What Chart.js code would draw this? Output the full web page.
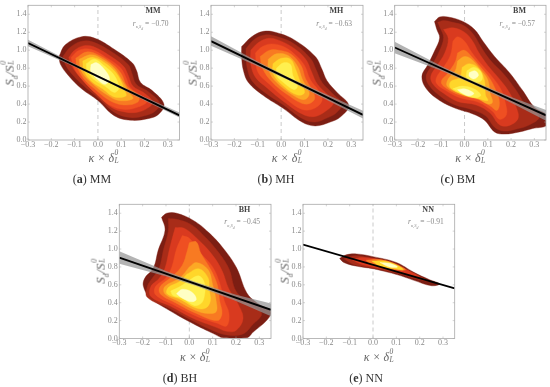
<!DOCTYPE html>
<html><head><meta charset="utf-8">
<style>
html,body{margin:0;padding:0;background:#fff;width:550px;height:387px;overflow:hidden}
#stage{position:relative;width:550px;height:387px;font-family:"Liberation Serif",serif}
canvas{position:absolute}
.t{position:absolute;white-space:nowrap}
.cap{font-size:12px;color:#333;transform:translateX(-50%)}
.name{font-size:8px;font-weight:bold;color:#444;transform:translateX(-50%)}
.r{font-size:7.5px;color:#888;transform:translateX(-50%)}
.xt,.yt{font-size:12px;color:#666;font-style:italic}
.yt{font-size:13px}
.xt{transform:translateX(-50%)}
.yt{transform:translate(-50%,-50%) rotate(-90deg)}
.st{display:inline-block;position:relative;width:5px;height:1em}
.st b,.st u{position:absolute;left:0.5px;font-size:7.5px;font-weight:normal;text-decoration:none;line-height:1}
.st b{top:-1px}.st u{top:7px}
</style></head><body><div id="stage"></div>
<script src="https://cdn.jsdelivr.net/npm/chart.js@4/dist/chart.umd.min.js"></script>
<script>
const levelColors=['#7c1e13','#a82c18','#d93a1f','#ef4f22','#f87a22','#fca925','#ffd62a','#fff04f','#ffffc4'];
const xTicks=[-0.3,-0.2,-0.1,0,0.1,0.2,0.3];
const yTicks=[0,0.2,0.4,0.6,0.8,1,1.2,1.4];
const bandX=[-0.3,-0.1,0.03,0.2,0.35];

const mmFit=[1.08,0.275], mhFit=[1.10,0.28], bmFit=[1.03,0.275], bhFit=[0.905,0.32], nnFit=[1.05,0.56];
const mmUpper=[1.115,0.85,0.683,0.48,0.305], mmLower=[1.045,0.815,0.659,0.44,0.25];
const mhUpper=[1.155,0.875,0.70,0.50,0.325], mhLower=[1.05,0.82,0.668,0.44,0.24];
const bmUpper=[1.095,0.825,0.662,0.48,0.335], bmLower=[0.965,0.77,0.632,0.415,0.215];
const bhUpper=[0.975,0.755,0.628,0.49,0.39], bhLower=[0.835,0.695,0.588,0.42,0.25];

const mm1=[[-0.167,0.93],[-0.14,1.06],[-0.07,1.15],[-0.01,1.13],[0.07,1.01],[0.147,0.86],[0.166,0.77],[0.183,0.64],[0.233,0.55],[0.283,0.40],[0.262,0.29],[0.219,0.24],[0.14,0.22],[0.07,0.27],[0,0.44],[-0.07,0.57],[-0.124,0.71],[-0.16,0.84]];
const mm2=[[-0.15,0.93],[-0.12,1.03],[-0.07,1.10],[-0.02,1.09],[0.06,0.98],[0.13,0.84],[0.145,0.75],[0.165,0.62],[0.215,0.54],[0.265,0.41],[0.245,0.32],[0.2,0.27],[0.14,0.25],[0.07,0.31],[0,0.47],[-0.06,0.60],[-0.11,0.73],[-0.14,0.84]];
const mm3=[[-0.125,0.92],[-0.1,1.0],[-0.06,1.05],[-0.02,1.04],[0.05,0.94],[0.11,0.82],[0.13,0.72],[0.15,0.6],[0.2,0.52],[0.235,0.42],[0.21,0.35],[0.17,0.31],[0.12,0.31],[0.06,0.36],[0,0.5],[-0.05,0.63],[-0.09,0.74],[-0.115,0.84]];
const mm4=[[-0.115,0.92],[-0.08,1.0],[-0.03,1.01],[0.035,0.92],[0.095,0.81],[0.12,0.7],[0.14,0.58],[0.185,0.5],[0.21,0.43],[0.175,0.37],[0.115,0.34],[0.05,0.39],[-0.01,0.52],[-0.06,0.65],[-0.1,0.79]];
const mm5=[[-0.095,0.91],[-0.05,0.98],[0,0.95],[0.06,0.85],[0.1,0.74],[0.125,0.6],[0.175,0.49],[0.17,0.42],[0.11,0.39],[0.05,0.44],[-0.01,0.56],[-0.06,0.68],[-0.09,0.82]];
const mm6=[[-0.08,0.9],[-0.03,0.95],[0.02,0.9],[0.07,0.8],[0.1,0.68],[0.135,0.53],[0.15,0.46],[0.09,0.44],[0.04,0.5],[-0.02,0.62],[-0.07,0.76]];
const mm7=[[-0.065,0.88],[-0.02,0.92],[0.04,0.84],[0.085,0.72],[0.115,0.55],[0.12,0.49],[0.07,0.48],[0.02,0.57],[-0.03,0.66],[-0.06,0.77]];
const mm8=[[-0.05,0.85],[-0.015,0.9],[0.03,0.82],[0.07,0.72],[0.09,0.58],[0.07,0.53],[0.03,0.6],[-0.01,0.66],[-0.045,0.76]];
const mm9=[[-0.03,0.84],[-0.005,0.86],[0.03,0.78],[0.05,0.68],[0.03,0.62],[0,0.67],[-0.03,0.76]];

const mh1=[[-0.169,1.04],[-0.126,1.15],[-0.076,1.21],[-0.026,1.20],[0.053,1.12],[0.146,0.93],[0.174,0.79],[0.196,0.66],[0.239,0.53],[0.289,0.385],[0.253,0.256],[0.21,0.2],[0.146,0.157],[0.089,0.2],[0.01,0.35],[-0.076,0.495],[-0.14,0.64],[-0.161,0.77],[-0.169,0.92]];
const mh2=[[-0.15,1.02],[-0.115,1.12],[-0.07,1.17],[-0.03,1.16],[0.05,1.08],[0.125,0.91],[0.15,0.78],[0.175,0.64],[0.215,0.53],[0.26,0.4],[0.235,0.3],[0.2,0.25],[0.145,0.2],[0.09,0.24],[0.01,0.39],[-0.07,0.53],[-0.125,0.66],[-0.145,0.8],[-0.15,0.93]];
const mh3=[[-0.13,1.0],[-0.1,1.08],[-0.06,1.13],[-0.02,1.12],[0.05,1.03],[0.105,0.9],[0.13,0.76],[0.155,0.62],[0.2,0.5],[0.225,0.42],[0.19,0.32],[0.14,0.26],[0.09,0.29],[0.01,0.43],[-0.06,0.58],[-0.11,0.7],[-0.13,0.85]];
const mh4=[[-0.11,0.97],[-0.08,1.04],[-0.04,1.07],[0.01,1.04],[0.06,0.95],[0.1,0.83],[0.125,0.67],[0.16,0.55],[0.175,0.44],[0.14,0.35],[0.09,0.34],[0.02,0.46],[-0.05,0.62],[-0.1,0.76]];
const mh5=[[-0.09,0.93],[-0.05,1.0],[-0.01,1.0],[0.04,0.96],[0.085,0.83],[0.105,0.68],[0.14,0.52],[0.14,0.44],[0.1,0.4],[0.03,0.5],[-0.04,0.65],[-0.08,0.8]];
const mh6=[[-0.055,0.9],[-0.02,0.96],[0.03,0.94],[0.07,0.82],[0.09,0.68],[0.12,0.52],[0.1,0.45],[0.05,0.5],[-0.03,0.67],[-0.055,0.8]];
const mh7=[[-0.035,0.85],[0,0.91],[0.04,0.9],[0.06,0.8],[0.08,0.66],[0.1,0.53],[0.07,0.5],[0.01,0.6],[-0.035,0.74]];
const mh8=[[-0.02,0.8],[0.01,0.86],[0.04,0.84],[0.05,0.72],[0.07,0.6],[0.055,0.56],[0.01,0.64],[-0.02,0.72]];

const bm1=[[-0.129,1.32],[-0.107,1.37],[-0.071,1.37],[-0.007,1.32],[0.043,1.23],[0.079,1.10],[0.129,0.93],[0.193,0.75],[0.25,0.55],[0.3,0.366],[0.355,0.275],[0.355,0.165],[0.293,0.128],[0.236,0.09],[0.171,0.066],[0.129,0.09],[0.086,0.22],[0.036,0.29],[-0.036,0.35],[-0.107,0.44],[-0.164,0.57],[-0.183,0.71],[-0.157,0.84],[-0.129,0.99],[-0.107,1.135],[-0.119,1.23]];
const bm2=[[-0.115,1.31],[-0.09,1.33],[-0.05,1.31],[0,1.27],[0.04,1.17],[0.07,1.04],[0.11,0.89],[0.17,0.73],[0.22,0.56],[0.26,0.4],[0.32,0.26],[0.28,0.17],[0.22,0.12],[0.17,0.1],[0.13,0.14],[0.09,0.27],[0.03,0.34],[-0.04,0.39],[-0.1,0.48],[-0.15,0.6],[-0.165,0.71],[-0.14,0.83],[-0.11,0.98],[-0.09,1.14],[-0.105,1.25]];
const bm3=[[-0.09,1.23],[-0.05,1.25],[0,1.2],[0.035,1.1],[0.06,0.98],[0.1,0.83],[0.15,0.68],[0.19,0.54],[0.22,0.38],[0.23,0.24],[0.19,0.16],[0.15,0.17],[0.11,0.3],[0.05,0.39],[-0.03,0.43],[-0.09,0.52],[-0.135,0.62],[-0.145,0.71],[-0.12,0.82],[-0.085,0.97],[-0.07,1.13]];
const bm4=[[-0.05,1.1],[-0.03,1.15],[0,1.1],[0.03,0.98],[0.07,0.85],[0.12,0.7],[0.155,0.57],[0.175,0.42],[0.18,0.28],[0.15,0.23],[0.12,0.32],[0.06,0.42],[-0.02,0.47],[-0.08,0.55],[-0.12,0.63],[-0.12,0.7],[-0.09,0.81],[-0.06,0.95]];
const bm5=[[-0.03,0.97],[0,1.0],[0.03,0.93],[0.07,0.81],[0.11,0.68],[0.135,0.55],[0.15,0.42],[0.14,0.33],[0.11,0.38],[0.06,0.45],[-0.02,0.5],[-0.08,0.58],[-0.1,0.65],[-0.07,0.75],[-0.04,0.87]];
const bm6=[[-0.03,0.88],[0,0.93],[0.03,0.9],[0.07,0.78],[0.1,0.67],[0.11,0.52],[0.12,0.42],[0.1,0.4],[0.05,0.47],[-0.03,0.53],[-0.075,0.6],[-0.07,0.68],[-0.04,0.77]];
const bm7=[[-0.01,0.81],[0.02,0.85],[0.06,0.8],[0.085,0.67],[0.09,0.5],[0.1,0.44],[0.06,0.46],[-0.01,0.51],[-0.06,0.58],[-0.06,0.65],[-0.02,0.7]];
const bm8a=[[0.01,0.77],[0.04,0.81],[0.07,0.76],[0.075,0.67],[0.05,0.64],[0.01,0.69]];
const bm8b=[[-0.05,0.57],[-0.01,0.6],[0.04,0.57],[0.07,0.5],[0.05,0.47],[0,0.5]];
const bm9a=[[0.02,0.75],[0.045,0.77],[0.06,0.72],[0.04,0.68],[0.02,0.71]];
const bm9b=[[-0.03,0.56],[0,0.57],[0.04,0.52],[0.02,0.49],[-0.01,0.52]];

const bh1=[[-0.119,1.355],[-0.097,1.40],[-0.054,1.40],[0.017,1.32],[0.081,1.19],[0.146,1.007],[0.203,0.787],[0.246,0.51],[0.289,0.40],[0.352,0.293],[0.331,0.2],[0.274,0.073],[0.246,0.007],[0.146,0.007],[0.103,0.055],[0.017,0.165],[-0.083,0.31],[-0.169,0.458],[-0.197,0.586],[-0.19,0.678],[-0.154,0.787],[-0.133,0.989],[-0.104,1.21]];
const bh2=[[-0.09,1.34],[-0.05,1.33],[0.01,1.27],[0.07,1.13],[0.12,0.98],[0.17,0.78],[0.2,0.53],[0.26,0.38],[0.31,0.28],[0.27,0.15],[0.23,0.05],[0.16,0.04],[0.1,0.09],[0.02,0.19],[-0.08,0.33],[-0.18,0.46],[-0.18,0.58],[-0.16,0.67],[-0.13,0.78],[-0.11,1.0],[-0.09,1.2]];
const bh3=[[-0.06,1.24],[-0.02,1.23],[0.04,1.1],[0.1,0.93],[0.14,0.76],[0.17,0.55],[0.21,0.38],[0.23,0.22],[0.2,0.09],[0.16,0.08],[0.11,0.13],[0.02,0.22],[-0.08,0.36],[-0.165,0.47],[-0.165,0.58],[-0.13,0.67],[-0.105,0.78],[-0.085,1.0],[-0.07,1.15]];
const bh4=[[-0.03,1.15],[0,1.12],[0.05,0.95],[0.1,0.8],[0.13,0.62],[0.15,0.42],[0.17,0.28],[0.16,0.14],[0.12,0.17],[0.03,0.25],[-0.07,0.38],[-0.145,0.49],[-0.145,0.58],[-0.1,0.68],[-0.075,0.8],[-0.055,1.0]];
const bh5=[[0,1.07],[0.03,1.08],[0.05,0.95],[0.09,0.78],[0.12,0.6],[0.13,0.42],[0.14,0.28],[0.12,0.2],[0.03,0.28],[-0.06,0.4],[-0.125,0.5],[-0.125,0.58],[-0.07,0.7],[-0.03,0.82],[-0.01,0.97]];
const bh6=[[0,0.8],[0.03,0.85],[0.08,0.77],[0.1,0.6],[0.115,0.42],[0.115,0.3],[0.08,0.28],[0.03,0.31],[-0.05,0.42],[-0.105,0.5],[-0.105,0.58],[-0.04,0.68]];
const bh7=[[-0.01,0.72],[0.04,0.78],[0.08,0.68],[0.085,0.55],[0.09,0.42],[0.07,0.34],[0.03,0.34],[-0.04,0.44],[-0.095,0.5],[-0.09,0.57],[-0.04,0.64]];
const bh8=[[-0.08,0.53],[-0.04,0.58],[0,0.65],[0.04,0.7],[0.065,0.62],[0.065,0.48],[0.05,0.39],[0.02,0.37],[-0.03,0.45],[-0.07,0.48]];
const bh9=[[-0.055,0.5],[-0.03,0.55],[0.01,0.52],[0.03,0.44],[0.01,0.41],[-0.03,0.45]];

const nn1=[[-0.143,0.895],[-0.115,0.935],[-0.07,0.945],[0,0.915],[0.1,0.85],[0.175,0.74],[0.24,0.66],[0.285,0.61],[0.25,0.59],[0.175,0.65],[0.12,0.70],[0.065,0.74],[0,0.78],[-0.074,0.81],[-0.125,0.85]];
const nn2=[[-0.125,0.89],[-0.08,0.925],[-0.02,0.905],[0.06,0.86],[0.12,0.8],[0.18,0.72],[0.24,0.64],[0.18,0.67],[0.12,0.72],[0.06,0.755],[-0.02,0.795],[-0.085,0.83]];
const nn3=[[-0.09,0.88],[-0.05,0.905],[0.02,0.885],[0.08,0.85],[0.14,0.775],[0.2,0.69],[0.13,0.735],[0.06,0.77],[0,0.8],[-0.05,0.83]];
const nn5=[[-0.03,0.875],[0.02,0.885],[0.08,0.85],[0.14,0.77],[0.1,0.765],[0.03,0.8],[-0.01,0.83]];
const nn7=[[-0.005,0.865],[0.05,0.865],[0.11,0.81],[0.13,0.77],[0.09,0.78],[0.03,0.81]];
const nn9=[[0.03,0.85],[0.07,0.84],[0.105,0.8],[0.07,0.8]];

const panels=[
 {id:'a',name:'MM',r:'−0.70',fit:mmFit,up:mmUpper,lo:mmLower,left:28,top:3.5,w:151.5,h:136.5,capX:92,
  levels:[[0,mm1],[1,mm2],[2,mm3],[3,mm4],[4,mm5],[5,mm6],[6,mm7],[7,mm8],[8,mm9]]},
 {id:'b',name:'MH',r:'−0.63',fit:mhFit,up:mhUpper,lo:mhLower,left:211,top:3.5,w:152,h:136.5,capX:276,
  levels:[[0,mh1],[1,mh2],[2,mh3],[3,mh4],[4,mh5],[5,mh6],[6,mh7],[7,mh8]]},
 {id:'c',name:'BM',r:'−0.57',fit:bmFit,up:bmUpper,lo:bmLower,left:394.7,top:3.5,w:151.3,h:136.5,capX:458,
  levels:[[0,bm1],[1,bm2],[2,bm3],[3,bm4],[4,bm5],[5,bm6],[6,bm7],[7,bm8a],[7,bm8b],[8,bm9a],[8,bm9b]]},
 {id:'d',name:'BH',r:'−0.45',fit:bhFit,up:bhUpper,lo:bhLower,left:119.3,top:202,w:151.7,h:136.5,capX:180,
  levels:[[0,bh1],[1,bh2],[2,bh3],[3,bh4],[4,bh5],[5,bh6],[6,bh7],[7,bh8],[8,bh9]]},
 {id:'e',name:'NN',r:'−0.91',fit:nnFit,up:null,lo:null,left:303,top:202,w:151.7,h:136.5,capX:366,
  levels:[[0,nn1],[1,nn2],[2,nn3],[4,nn5],[6,nn7],[8,nn9]]}
];

const frame={id:'frame',afterDatasetsDraw(c){
  const {ctx,chartArea:a,scales:{x,y}}=c;
  ctx.save();ctx.strokeStyle='#a8a8a8';ctx.lineWidth=0.8;
  ctx.strokeRect(a.left,a.top,a.right-a.left,a.bottom-a.top);
  ctx.lineWidth=0.5;ctx.beginPath();
  xTicks.forEach(v=>{const p=x.getPixelForValue(v);ctx.moveTo(p,a.bottom);ctx.lineTo(p,a.bottom-2);ctx.moveTo(p,a.top);ctx.lineTo(p,a.top+2);});
  yTicks.forEach(v=>{const p=y.getPixelForValue(v);ctx.moveTo(a.left,p);ctx.lineTo(a.left+2,p);ctx.moveTo(a.right,p);ctx.lineTo(a.right-2,p);});
  ctx.stroke();ctx.restore();
}};
const fmt=v=>{const n=+v;return (n<-1e-9?'−':'')+Math.abs(n).toFixed(1);};
const stage=document.getElementById('stage');
const PADL=30,PADT=4,PADR=4,PADB=14;
const addText=(cls,html,x,y)=>{const d=document.createElement('div');d.className='t '+cls;d.innerHTML=html;d.style.left=x+'px';d.style.top=y+'px';stage.appendChild(d);};

panels.forEach(p=>{
  const cv=document.createElement('canvas');
  const cx=Math.floor(p.left-PADL),cy=Math.floor(p.top-PADT);
  const W=Math.ceil(p.w+PADL+PADR),H=Math.ceil(p.h+PADT+PADB);
  cv.width=W;cv.height=H;cv.style.left=cx+'px';cv.style.top=cy+'px';cv.style.width=W+'px';cv.style.height=H+'px';
  stage.appendChild(cv);
  const ds=[];
  ds.push({data:[{x:-0.3,y:p.fit[0]},{x:0.35,y:p.fit[1]}],borderColor:'#000',borderWidth:1.9,pointRadius:0,showLine:true,fill:false});
  if(p.up){
    const poly=bandX.map((x,i)=>({x,y:p.up[i]})).concat(bandX.map((x,i)=>({x,y:p.lo[i]})).reverse());
    poly.push(poly[0]);
    ds.push({data:poly,borderColor:'rgba(0,0,0,0)',borderWidth:0,backgroundColor:'rgba(150,150,150,0.72)',fill:'shape',pointRadius:0,showLine:true,tension:0});
  }
  p.levels.slice().reverse().forEach(([k,poly])=>{
    const pts=poly.map(([x,y])=>({x,y}));pts.push(pts[0]);
    ds.push({data:pts,borderColor:levelColors[k],borderWidth:0.4,backgroundColor:levelColors[k],fill:'shape',pointRadius:0,showLine:true,tension:0.38});
  });
  ds.push({data:[{x:0,y:0},{x:0,y:1.5}],borderColor:'#c4c4c4',borderWidth:0.9,borderDash:[4,3],pointRadius:0,showLine:true,fill:false});
  const yBox=p.left-cx, xBox=H-(p.top-cy)-p.h;
  new Chart(cv,{type:'scatter',data:{datasets:ds},plugins:[frame],options:{
    responsive:false,animation:false,devicePixelRatio:1,
    layout:{autoPadding:false,padding:{left:0,top:p.top-cy,right:W-yBox-p.w,bottom:0}},
    plugins:{legend:{display:false},tooltip:{enabled:false}},
    events:[],
    scales:{
      x:{type:'linear',min:-0.3,max:0.35,grid:{display:false,drawTicks:false},border:{display:false},afterFit(s){s.height=xBox;},
        afterBuildTicks(s){s.ticks=xTicks.map(v=>({value:v}));},
        ticks:{callback:fmt,color:'#8a8a8a',font:{family:'Liberation Serif',size:8},padding:0,maxRotation:0,autoSkip:false}},
      y:{type:'linear',min:0,max:1.5,grid:{display:false,drawTicks:false},border:{display:false},afterFit(s){s.width=yBox;},
        afterBuildTicks(s){s.ticks=yTicks.map(v=>({value:v}));},
        ticks:{callback:fmt,color:'#8a8a8a',font:{family:'Liberation Serif',size:8},padding:1.5,autoSkip:false}}
    }}});
  const cxp=p.left+p.w/2;
  addText('name',p.name,p.left+p.w*0.825,p.top+2.5);
  addText('r','<i>r</i><sub style="font-size:4.5px"><i>κ,S<sub>d</sub></i></sub> = '+p.r,p.left+p.w*0.81,p.top+15);
  addText('xt','κ × δ<span class="st"><b>0</b><u>L</u></span>',cxp,p.top+p.h+10);
  addText('yt','S<sub style="font-size:7.5px">d</sub>/S<span class="st"><b>0</b><u>L</u></span>',p.left-18,p.top+p.h/2+1);
  addText('cap','(<b>'+p.id+'</b>) '+p.name,p.capX,p.top+p.h+32);
});
</script></body></html>
